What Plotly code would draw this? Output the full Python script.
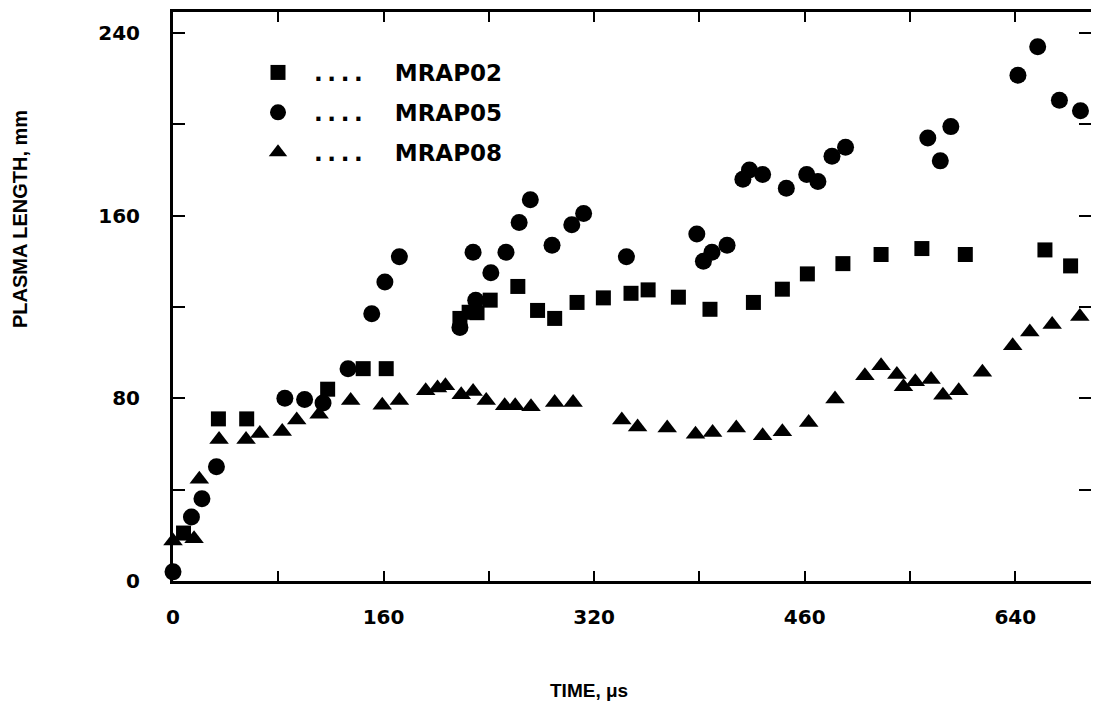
import plotly.graph_objects as go

# ---- data (time in microseconds, plasma length in mm) ----
mrap02_t = [8, 34.5, 56, 117.5, 144.5, 162, 218, 225, 231, 241,
            262, 277, 290, 307, 327, 348, 361, 384, 408, 441,
            463, 482, 509, 538, 569, 602, 662.5, 682]
mrap02_len = [21, 71, 71, 84, 93, 93, 115, 117.7, 117.5, 123,
              129, 118.5, 115, 122, 124, 126, 127.5, 124.3, 119, 122,
              127.8, 134.5, 139, 143, 145.6, 143, 145, 138]

mrap05_t = [0, 14, 22, 33, 85, 100, 114, 133, 151, 161,
            172, 218, 230, 228, 241.5, 253, 263, 271.5, 288, 303,
            312, 344.5, 398, 403, 409.5, 421, 433, 438, 448, 466,
            481.5, 490, 500.7, 511, 573.5, 583, 591, 642, 657, 673.5,
            689.5]
mrap05_len = [4, 28, 36, 50, 80, 79.5, 78, 93, 117, 131,
              142, 111, 123, 144, 135, 144, 157, 167, 147, 156,
              161, 142, 152, 140, 144, 147, 176, 180, 178, 172,
              178, 175, 186, 190, 194, 184, 199, 221.5, 234, 210.5,
              206]

mrap08_t = [0, 16, 20, 35, 55.5, 66, 83, 94, 111, 135,
            159, 172, 192, 201, 207, 219, 228, 238, 252, 260,
            272, 290, 304, 341, 353, 375.5, 397, 410, 428, 448,
            463, 483, 503, 525.7, 538, 550, 555, 564, 576, 585,
            597, 615, 638, 651, 668, 689]
mrap08_len = [17.5, 18.5, 44.6, 62, 62, 64.6, 65.5, 70.5, 73, 79,
              77, 79, 83.3, 84.5, 85.5, 81.6, 83, 79, 76.8, 76.8,
              76.3, 78.2, 78.2, 70.5, 67.5, 67, 64.3, 65, 67, 63.6,
              65.4, 69.4, 79.7, 89.9, 94.3, 90.4, 85.1, 87.3, 88.2, 81.4,
              83.3, 91.4, 103, 109, 112.3, 115.8]

series_names = ["MRAP02", "MRAP05", "MRAP08"]

x_tickvals = [0, 80, 160, 240, 320, 400, 480, 560, 640]
x_ticktext = ["0", "", "160", "", "320", "", "460", "", "640"]
y_tickvals = [0, 40, 80, 120, 160, 200, 240]
y_ticktext = ["0", "", "80", "", "160", "", "240"]

FONT = "DejaVu Sans"
TITLE_FONT = "Liberation Sans"
NB = "\u00a0"
TH = "\u2009"

def legend_label(name):
    return NB * 2 + TH.join(["."] * 4) + NB * 4 + name

fig = go.Figure()
specs = [
    (mrap02_t, mrap02_len, "square", 15, series_names[0]),
    (mrap05_t, mrap05_len, "circle", 17, series_names[1]),
    (mrap08_t, mrap08_len, "triangle-up", 17, series_names[2]),
]
for i, (xs, ys, sym, sz, nm) in enumerate(specs):
    fig.add_trace(go.Scatter(
        x=xs, y=ys, mode="markers", name=legend_label(nm),
        legendgroup=f"g{i}", cliponaxis=False,
        marker=dict(symbol=sym, size=sz, color="black", line=dict(width=0)),
    ))

axis_common = dict(
    showgrid=False, zeroline=False, showline=True, linecolor="black", linewidth=3,
    mirror="ticks", ticks="inside", tickcolor="black", tickwidth=2,
    tickfont=dict(family=FONT, size=20, color="black", weight="bold"),
    automargin=False,
)

fig.update_xaxes(range=[0, 697.5], tickmode="array", tickvals=x_tickvals,
                 ticktext=x_ticktext, ticklen=10, ticklabelstandoff=16, **axis_common)
fig.update_yaxes(range=[0, 249.2], tickmode="array", tickvals=y_tickvals,
                 ticktext=y_ticktext, ticklen=12, ticklabelstandoff=26, **axis_common)

# page body has an 8px default margin, so the figure is 8px smaller and shifted
fig.update_layout(
    width=1091, height=704,
    margin=dict(l=165, r=8, t=4, b=131),
    paper_bgcolor="white", plot_bgcolor="white",
    showlegend=True,
    legend=dict(
        x=(258 - 173) / 918, y=0.9315, xanchor="left", yanchor="top",
        bgcolor="rgba(0,0,0,0)", borderwidth=0,
        font=dict(family=FONT, size=23, color="black", weight="bold"),
        traceorder="grouped", tracegroupgap=7,
    ),
    annotations=[
        dict(text="PLASMA LENGTH, mm", xref="paper", yref="paper",
             x=(20 - 173) / 918, y=(581 - 219) / 569, textangle=-90, showarrow=False,
             xanchor="center", yanchor="middle",
             font=dict(family=TITLE_FONT, size=20, color="black", weight="bold")),
        dict(text="TIME, \u03bcs", xref="paper", yref="paper",
             x=(589 - 173) / 918, y=-(690 - 581) / 569, showarrow=False,
             xanchor="center", yanchor="middle",
             font=dict(family=TITLE_FONT, size=19, color="black", weight="bold")),
    ],
)

fig.write_html("out.html")
